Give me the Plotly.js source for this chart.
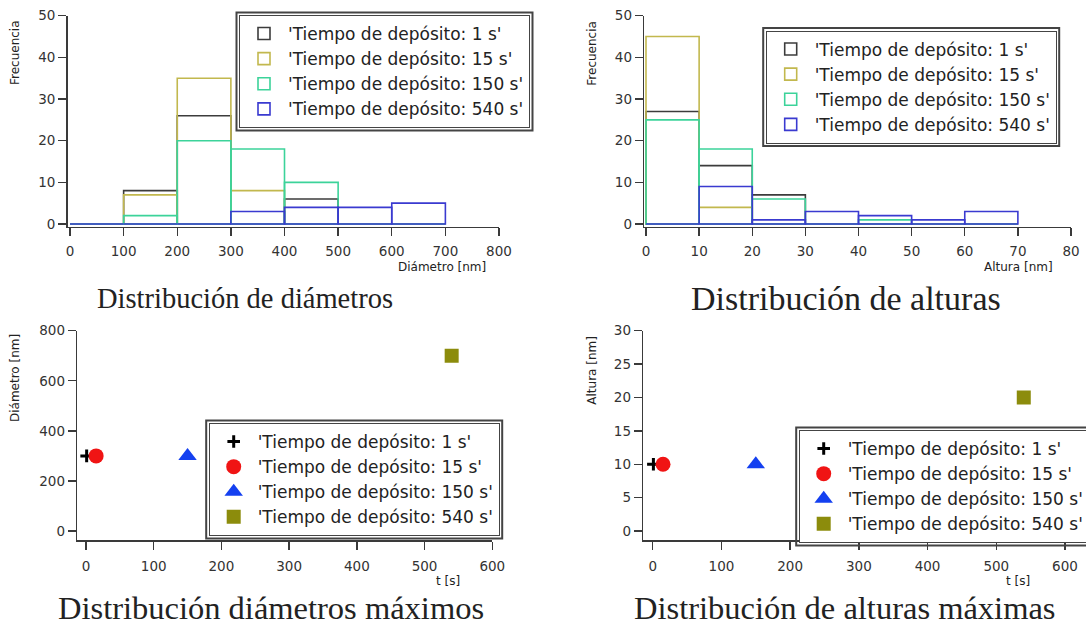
<!DOCTYPE html>
<html>
<head>
<meta charset="utf-8">
<script src="https://cdn.plot.ly/plotly-3.0.1.min.js"></script>
<style>
  html, body { margin: 0; padding: 0; background: #fff; }
  #chart { width: 1086px; height: 626px; }
</style>
</head>
<body>
<div id="chart"></div>
<script>
// ---- Series names --------------------------------------------------------
const seriesNames = [
  "'Tiempo de depósito: 1 s'",
  "'Tiempo de depósito: 15 s'",
  "'Tiempo de depósito: 150 s'",
  "'Tiempo de depósito: 540 s'"
];

// ---- Diameter histogram (bin edges in nm, counts per bin) -----------------
const diamEdges = [0, 100, 200, 300, 400, 500, 600, 700];
const diamCount1 = [0, 8, 26, 0, 6, 0, 0];
const diamCount15 = [0, 7, 35, 8, 0, 0, 0];
const diamCount150 = [0, 2, 20, 18, 10, 0, 0];
const diamCount540 = [0, 0, 0, 3, 4, 4, 5];

// ---- Height histogram (bin edges in nm, counts per bin) -------------------
const altEdges = [0, 10, 20, 30, 40, 50, 60, 70];
const altCount1 = [27, 14, 7, 0, 0, 0, 0];
const altCount15 = [45, 4, 0, 0, 0, 0, 0];
const altCount150 = [25, 18, 6, 0, 1, 0, 0];
const altCount540 = [0, 9, 1, 3, 2, 1, 3];

// ---- Maximum diameter / height versus deposition time ---------------------
const depTime = [1, 15, 150, 540];          // s
const maxDiameter = [300, 300, 300, 700];   // nm
const maxHeight = [10, 10, 10, 20];         // nm

// ---- Tick labels -----------------------------------------------------------
const diamTicks = [0, 100, 200, 300, 400, 500, 600, 700, 800];
const altTicks = [0, 10, 20, 30, 40, 50, 60, 70, 80];
const freqTicks = [0, 10, 20, 30, 40, 50];
const timeTicks = [0, 100, 200, 300, 400, 500, 600];
const maxDiamTicks = [0, 200, 400, 600, 800];
const maxAltTicks = [0, 5, 10, 15, 20, 25, 30];

// ---- Styling ---------------------------------------------------------------
const W = 1086, H = 626;
const px = v => v / W;          // horizontal pixel -> paper
const py = v => 1 - v / H;      // vertical pixel -> paper

const histColors = ['#3c3c3c', '#c2b84e', '#3cd39a', '#3a3ad0'];
const AXIS = '#3a3a3a';
const SANS = 'DejaVu Sans, Verdana, sans-serif';
const SERIF = 'Liberation Serif, Times New Roman, serif';

const binCenters = e => e.slice(0, -1).map((v, i) => (v + e[i + 1]) / 2);
const binWidths = e => e.slice(0, -1).map((v, i) => e[i + 1] - v);

function histTrace(edges, counts, idx, xa, ya, legendId) {
  return {
    type: 'bar',
    x: binCenters(edges),
    y: counts,
    width: binWidths(edges),
    name: seriesNames[idx],
    xaxis: xa, yaxis: ya, legend: legendId,
    marker: { color: 'rgba(0,0,0,0)', line: { color: histColors[idx], width: 1.6 } },
    hoverinfo: 'skip'
  };
}

const markerStyles = [
  { symbol: 'cross-thin', size: 9, color: '#000', line: { color: '#000', width: 3 } },
  { symbol: 'circle', size: 15, color: '#f01414', line: { width: 0 } },
  { symbol: 'triangle-up', size: 16, color: '#1440f0', line: { width: 0 } },
  { symbol: 'square', size: 14, color: '#8c8c0c', line: { width: 0 } }
];

function pointTrace(i, values, xa, ya, legendId) {
  return {
    type: 'scatter', mode: 'markers',
    x: [depTime[i]], y: [values[i]],
    name: seriesNames[i],
    xaxis: xa, yaxis: ya, legend: legendId,
    marker: markerStyles[i],
    hoverinfo: 'skip'
  };
}

const data = [
  histTrace(diamEdges, diamCount1, 0, 'x', 'y', 'legend'),
  histTrace(diamEdges, diamCount15, 1, 'x', 'y', 'legend'),
  histTrace(diamEdges, diamCount150, 2, 'x', 'y', 'legend'),
  histTrace(diamEdges, diamCount540, 3, 'x', 'y', 'legend'),
  histTrace(altEdges, altCount1, 0, 'x2', 'y2', 'legend2'),
  histTrace(altEdges, altCount15, 1, 'x2', 'y2', 'legend2'),
  histTrace(altEdges, altCount150, 2, 'x2', 'y2', 'legend2'),
  histTrace(altEdges, altCount540, 3, 'x2', 'y2', 'legend2'),
  pointTrace(0, maxDiameter, 'x3', 'y3', 'legend3'),
  pointTrace(1, maxDiameter, 'x3', 'y3', 'legend3'),
  pointTrace(2, maxDiameter, 'x3', 'y3', 'legend3'),
  pointTrace(3, maxDiameter, 'x3', 'y3', 'legend3'),
  pointTrace(0, maxHeight, 'x4', 'y4', 'legend4'),
  pointTrace(1, maxHeight, 'x4', 'y4', 'legend4'),
  pointTrace(2, maxHeight, 'x4', 'y4', 'legend4'),
  pointTrace(3, maxHeight, 'x4', 'y4', 'legend4')
];

function axis(extra) {
  return Object.assign({
    showline: true, linecolor: AXIS, linewidth: 1.6,
    ticks: 'outside', ticklen: 8, tickwidth: 1.4, tickcolor: AXIS,
    showgrid: false, zeroline: false, mirror: false, fixedrange: true,
    tickmode: 'array',
    tickfont: { family: SANS, size: 13.5, color: '#333' }
  }, extra);
}

function legendBox(x, y) {
  return {
    x: px(x), y: py(y), xanchor: 'left', yanchor: 'top',
    bgcolor: '#fff', bordercolor: '#444', borderwidth: 1,
    font: { family: SANS, size: 17, color: '#222' },
    itemwidth: 38, tracegroupgap: 0, traceorder: 'normal',
    itemclick: false, itemdoubleclick: false
  };
}

function note(text, x, y, size, family, extra) {
  return Object.assign({
    text, x: px(x), y: py(y), xref: 'paper', yref: 'paper',
    xanchor: 'center', yanchor: 'middle', showarrow: false,
    font: { family, size, color: '#222' }
  }, extra || {});
}

const layout = {
  width: W, height: H,
  margin: { l: 0, r: 0, t: 0, b: 0, autoexpand: false },
  paper_bgcolor: '#fff', plot_bgcolor: '#fff',
  barmode: 'overlay', bargap: 0,
  showlegend: true,

  xaxis: axis({ domain: [px(67.7), px(499)], range: [-4.3, 800], anchor: 'y',
                tickvals: diamTicks, ticktext: diamTicks.map(String), ticklabelstandoff: 3 }),
  yaxis: axis({ domain: [py(226.7), py(15.7)], range: [-0.65, 50], anchor: 'x',
                tickvals: freqTicks, ticktext: freqTicks.map(String) }),
  xaxis2: axis({ domain: [px(644.3), px(1071)], range: [-0.32, 80], anchor: 'y2',
                 tickvals: altTicks, ticktext: altTicks.map(String), ticklabelstandoff: 3 }),
  yaxis2: axis({ domain: [py(226.7), py(15.7)], range: [-0.65, 50], anchor: 'x2',
                 tickvals: freqTicks, ticktext: freqTicks.map(String) }),
  xaxis3: axis({ domain: [px(77.3), px(492.3)], range: [-12.8, 600], anchor: 'y3',
                 tickvals: timeTicks, ticktext: timeTicks.map(String), ticklabelstandoff: 5 }),
  yaxis3: axis({ domain: [py(540), py(330.7)], range: [-36, 800], anchor: 'x3',
                 tickvals: maxDiamTicks, ticktext: maxDiamTicks.map(String) }),
  xaxis4: axis({ domain: [px(643.3), px(1065)], range: [-13.7, 600], anchor: 'y4',
                 tickvals: timeTicks, ticktext: timeTicks.map(String), ticklabelstandoff: 5 }),
  yaxis4: axis({ domain: [py(540), py(330.7)], range: [-1.35, 30], anchor: 'x4',
                 tickvals: maxAltTicks, ticktext: maxAltTicks.map(String) }),

  legend: legendBox(239, 15),
  legend2: legendBox(765.7, 30.5),
  legend3: legendBox(208.7, 423),
  legend4: legendBox(798.7, 430),

  annotations: [
    // axis titles
    note('Frecuencia', 15, 53, 12, SANS, { textangle: -90 }),
    note('Diámetro [nm]', 441.7, 267, 12, SANS),
    note('Frecuencia', 591.7, 53, 12, SANS, { textangle: -90 }),
    note('Altura [nm]', 1018.5, 267, 12, SANS),
    note('Diámetro [nm]', 15, 378, 12, SANS, { textangle: -90 }),
    note('t [s]', 448, 580.5, 12, SANS, { borderpad: 0 }),
    note('Altura [nm]', 591.7, 370, 12, SANS, { textangle: -90 }),
    note('t [s]', 1018, 580.5, 12, SANS, { borderpad: 0 }),
    // panel captions
    note('Distribución de diámetros', 245, 298, 28.5, SERIF),
    note('Distribución de alturas', 846, 298, 34, SERIF),
    note('Distribución diámetros máximos', 271, 607.5, 32.5, SERIF, { borderpad: 0 }),
    note('Distribución de alturas máximas', 845, 607.5, 32.5, SERIF, { borderpad: 0 })
  ]
};

const gd = document.getElementById('chart');
Plotly.newPlot(gd, data, layout, { staticPlot: true, displayModeBar: false }).then(() => {
  // Double frame round each legend: the legend border is the inner line,
  // a thicker rectangle a few pixels outside it forms the outer line.
  const host = gd.getBoundingClientRect();
  const shapes = [];
  ['legend', 'legend2', 'legend3', 'legend4'].forEach(id => {
    const bg = gd.querySelector('g.' + id + ' rect.bg');
    if (!bg) return;
    const r = bg.getBoundingClientRect();
    const l = r.left - host.left, t = r.top - host.top;
    const rr = r.right - host.left, b = r.bottom - host.top;
    shapes.push({
      type: 'rect', xref: 'paper', yref: 'paper', layer: 'above',
      x0: px(l - 3), x1: px(rr + 3), y0: py(b + 3), y1: py(t - 3),
      line: { color: '#444', width: 2 }, fillcolor: 'rgba(0,0,0,0)'
    });
  });
  return Plotly.relayout(gd, { shapes });
});
</script>
</body>
</html>
